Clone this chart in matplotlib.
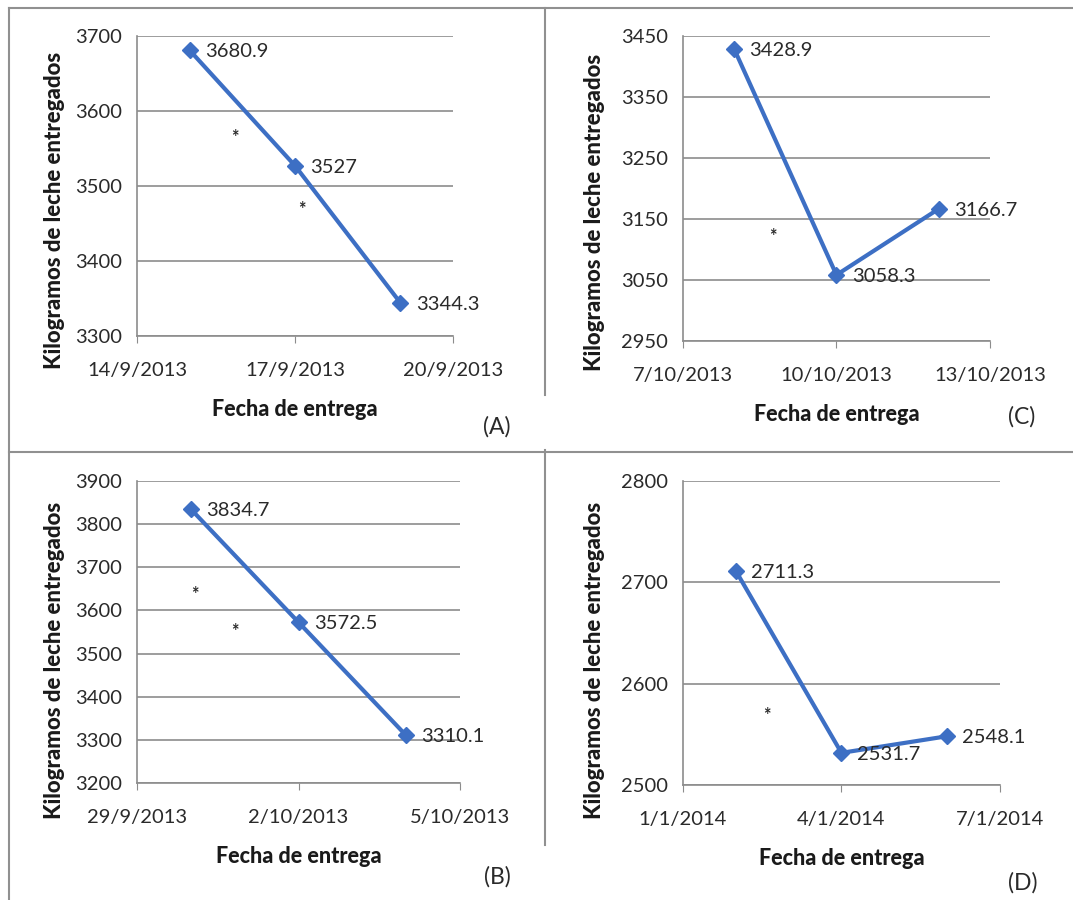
import datetime as dt
import matplotlib.pyplot as plt
import matplotlib.dates as mdates
from matplotlib.lines import Line2D

plt.rcParams['font.family'] = ['Lato', 'DejaVu Sans']

# datos de cada panel
fechas_A = [dt.date(2013, 9, 15), dt.date(2013, 9, 17), dt.date(2013, 9, 19)]
kg_A = [3680.9, 3527, 3344.3]
fechas_B = [dt.date(2013, 9, 30), dt.date(2013, 10, 2), dt.date(2013, 10, 4)]
kg_B = [3834.7, 3572.5, 3310.1]
fechas_C = [dt.date(2013, 10, 8), dt.date(2013, 10, 10), dt.date(2013, 10, 12)]
kg_C = [3428.9, 3058.3, 3166.7]
fechas_D = [dt.date(2014, 1, 2), dt.date(2014, 1, 4), dt.date(2014, 1, 6)]
kg_D = [2711.3, 2531.7, 2548.1]

etiquetas_A = ['3680.9', '3527', '3344.3']
etiquetas_B = ['3834.7', '3572.5', '3310.1']
etiquetas_C = ['3428.9', '3058.3', '3166.7']
etiquetas_D = ['2711.3', '2531.7', '2548.1']

# asteriscos (dias desde el inicio del eje, valor)
ast_A = [(1.86, 3565), (3.13, 3468)]
ast_B = [(1.08, 3638), (1.82, 3550)]
ast_C = [(1.76, 3122)]
ast_D = [(1.58, 2569)]

paneles = [
    # letra, fechas, valores, etiquetas, asteriscos, inicio x, ylim,
    # rect, posicion ylabel (ejes), posicion letra (pixeles)
    ('(A)', fechas_A, kg_A, etiquetas_A, ast_A, dt.date(2013, 9, 14), (3300, 3700),
     [0.1277, 0.6267, 0.2945, 0.3333], (-0.228, 0.417), (497, 427)),
    ('(C)', fechas_C, kg_C, etiquetas_C, ast_C, dt.date(2013, 10, 7), (2950, 3450),
     [0.6365, 0.6211, 0.2861, 0.3389], (-0.254, 0.423), (1022, 417)),
    ('(B)', fechas_B, kg_B, etiquetas_B, ast_B, dt.date(2013, 9, 29), (3200, 3900),
     [0.1277, 0.1300, 0.3010, 0.3356], (-0.223, 0.407), (497, 877)),
    ('(D)', fechas_D, kg_D, etiquetas_D, ast_D, dt.date(2014, 1, 1), (2500, 2800),
     [0.6365, 0.1278, 0.2954, 0.3378], (-0.246, 0.41), (1023, 883)),
]

azul = '#3d6fc4'
gris = '#8c8c8c'
texto = '#2a2a2a'

fig = plt.figure(figsize=(10.73, 9), dpi=100)

for letra, fechas, kg, etiquetas, asts, x0, ylim, rect, ylab_pos, letra_pos in paneles:
    ax = fig.add_axes(rect)
    ticks = [x0 + dt.timedelta(days=3 * i) for i in range(3)]
    ax.set_xlim(mdates.date2num(ticks[0]), mdates.date2num(ticks[-1]))
    ax.set_ylim(*ylim)
    ax.set_xticks(mdates.date2num(ticks))
    ax.set_xticklabels([f'{t.day}/{t.month}/{t.year}' for t in ticks])
    ax.set_yticks(range(ylim[0], ylim[1] + 1, 100))
    ax.yaxis.grid(True, color=gris, linewidth=1.2)
    ax.set_axisbelow(True)
    for s in ['top', 'right']:
        ax.spines[s].set_visible(False)
    for s in ['left', 'bottom']:
        ax.spines[s].set_color(gris)
        ax.spines[s].set_linewidth(1.2)
    ax.tick_params(axis='y', length=0, pad=11, labelsize=14.5, labelcolor=texto)
    ax.tick_params(axis='x', length=5, color=gris, direction='out', pad=14,
                   labelsize=14.5, labelcolor=texto)

    xs = mdates.date2num(fechas)
    ax.plot(xs, kg, color=azul, linewidth=3, marker='D', markersize=8,
            clip_on=False, zorder=3)
    for x, y, e in zip(xs, kg, etiquetas):
        ax.annotate(e, (x, y), xytext=(11, -1), textcoords='offset points',
                    ha='left', va='center', fontsize=14.5, color=texto, zorder=4)
    for d, y in asts:
        ax.text(mdates.date2num(x0) + d, y, '*', ha='center', va='center',
                fontsize=13, fontweight='bold', color=texto)

    ax.set_ylabel('Kilogramos de leche entregados', fontsize=16,
                  fontweight='black', color='#1a1a1a')
    ax.yaxis.set_label_coords(*ylab_pos)
    ax.set_xlabel('Fecha de entrega', fontsize=15.5, fontweight='black',
                  color='#1a1a1a', labelpad=14)
    fig.text(letra_pos[0] / 1073, 1 - letra_pos[1] / 900, letra, ha='center',
             va='center', fontsize=16.5, color=texto)

# marcos del documento escaneado
borde = dict(color='#909090', linewidth=1.5, transform=fig.transFigure)
fig.add_artist(Line2D([9 / 1073, 9 / 1073], [0, 1 - 8 / 900], **borde))
fig.add_artist(Line2D([9 / 1073, 1], [1 - 8 / 900, 1 - 8 / 900], **borde))
fig.add_artist(Line2D([545 / 1073, 545 / 1073], [1 - 8 / 900, 1 - 395 / 900], **borde))
fig.add_artist(Line2D([545 / 1073, 545 / 1073], [1 - 450 / 900, 1 - 845 / 900], **borde))
fig.add_artist(Line2D([9 / 1073, 1], [1 - 452 / 900, 1 - 452 / 900], **borde))

fig.savefig('out.png', dpi=100, facecolor='white')
